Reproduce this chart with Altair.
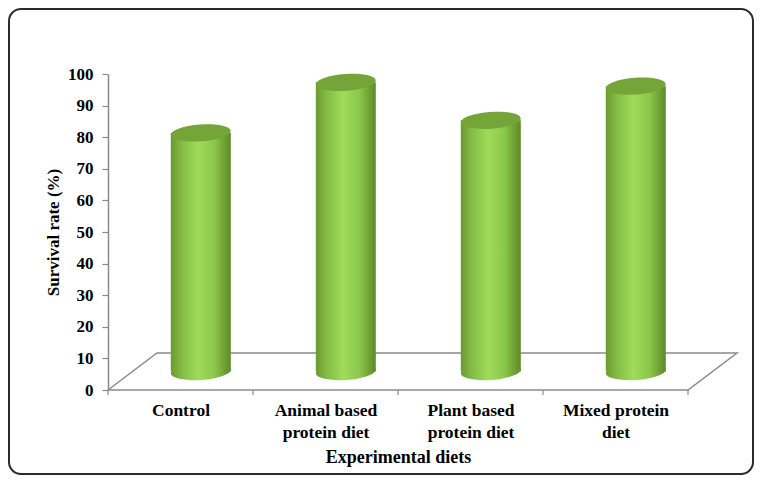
import textwrap
import altair as alt
import pandas as pd

# ---------------- data ----------------
categories = ["Control", "Animal based protein diet", "Plant based protein diet", "Mixed protein diet"]
survival = [75.5, 91.5, 79.5, 90.3]
y_ticks = list(range(0, 101, 10))

X_TITLE = "Experimental diets"
Y_TITLE = "Survival rate (%)"

# ---------------- layout / style constants ----------------
W, H = 620, 316
UNIT = 145.0                 # px per category slot
XMAX = W / UNIT
DX = 49 / UNIT               # 3-D depth offset (x, in category units)
DY = 37 / H * 100            # 3-D depth offset (y, in value units)
BAR_SHIFT = 0.14
BAR_HALF = 30 / UNIT
BASE = DY / 2                # bars stand on the middle depth plane
TICK_LEN = 5 / H * 100
FONT = "'Liberation Serif', 'Times New Roman', serif"
AXIS_GRAY = "#8a8a8a"

n = len(categories)
bars = pd.DataFrame({"category": categories, "value": survival})
bars["xc"] = [i + 0.5 + BAR_SHIFT for i in range(n)]
bars["x0"] = bars["xc"] - BAR_HALF
bars["x1"] = bars["xc"] + BAR_HALF
bars["base"] = BASE
bars["top"] = bars["value"] + BASE   # projected onto the front axis

floor = pd.DataFrame({"x": [0, DX, n + DX, n, 0], "y": [0, DY, DY, 0, 0], "o": list(range(5))})
xt = pd.DataFrame({"x": list(range(n + 1)), "y0": 0.0, "y1": -TICK_LEN})
frame = pd.DataFrame({"a": [0]})

wrapped = [textwrap.wrap(c, 13) for c in categories]
expr = "''"
for i in reversed(range(n)):
    arr = "[" + ",".join("'" + l + "'" for l in wrapped[i]) + "]"
    expr = f"datum.value == {i + 0.5} ? {arr} : {expr}"

xscale = alt.Scale(domain=[0, XMAX], nice=False, zero=False)
yscale = alt.Scale(domain=[0, 100], nice=False, zero=False)

x_axis = alt.Axis(
    values=[i + 0.5 for i in range(n)], labelExpr=expr, ticks=False, domain=False, grid=False,
    labelFont=FONT, labelFontWeight="bold", labelFontSize=17.5, labelColor="black",
    labelPadding=20, labelLineHeight=22, labelOverlap=False, labelFlush=False,
    labelBaseline="middle",
    title=X_TITLE, titleFont=FONT, titleFontWeight="bold", titleFontSize=18, titleColor="black",
    titleX=290, titleY=67, titleAlign="center", titleBaseline="middle",
)
y_axis = alt.Axis(
    values=y_ticks, grid=False, domainColor=AXIS_GRAY, domainWidth=1.5, tickColor=AXIS_GRAY,
    tickWidth=1.2, tickSize=6,
    labelFont=FONT, labelFontWeight="bold", labelFontSize=17, labelColor="black", labelPadding=9,
    title=Y_TITLE, titleFont=FONT, titleFontWeight="bold", titleFontSize=17, titleColor="black",
    titleX=-55, titleY=H / 2, titleAngle=270, titleAlign="center", titleBaseline="middle",
)

bar_grad = alt.Gradient(
    gradient="linear", x1=0, x2=1, y1=0, y2=0,
    stops=[
        alt.GradientStop(offset=0.0, color="#699a2f"),
        alt.GradientStop(offset=0.18, color="#84bb45"),
        alt.GradientStop(offset=0.45, color="#9edc5a"),
        alt.GradientStop(offset=0.72, color="#8cc84b"),
        alt.GradientStop(offset=0.9, color="#6f9f34"),
        alt.GradientStop(offset=1.0, color="#5d8b29"),
    ],
)
ELLIPSE = "M -1 0 A 1 0.28 0 1 1 1 0 A 1 0.28 0 1 1 -1 0 Z"


def X(field):
    return alt.X(field, scale=xscale, axis=x_axis)


def Y(field):
    return alt.Y(field, scale=yscale, axis=y_axis)


floor_layer = alt.Chart(floor).mark_line(color=AXIS_GRAY, strokeWidth=1.5).encode(
    x=X("x:Q"), y=Y("y:Q"), order="o:Q",
)

tick_layer = alt.Chart(xt).mark_rule(color=AXIS_GRAY, strokeWidth=1.2).encode(
    x=X("x:Q"), y=Y("y0:Q"), y2="y1:Q",
)

bottom_layer = alt.Chart(bars).mark_point(
    shape=ELLIPSE, size=3600, filled=True, fill=bar_grad, opacity=1, strokeWidth=0, angle=356
).encode(x=X("xc:Q"), y=Y("base:Q"))

body_layer = alt.Chart(bars).mark_rect(fill=bar_grad, strokeWidth=0).encode(
    x=X("x0:Q"), x2="x1:Q", y=Y("top:Q"), y2="base:Q",
)

top_layer = alt.Chart(bars).mark_point(
    shape=ELLIPSE, size=3600, filled=True, fill="#75a439", opacity=1, strokeWidth=0, angle=356
).encode(x=X("xc:Q"), y=Y("top:Q"))

frame_layer = alt.Chart(frame).mark_rect(
    fill="transparent", stroke="#2b2b2b", strokeWidth=2, cornerRadius=12
).encode(
    x=alt.value(-99), x2=alt.value(645), y=alt.value(-65), y2=alt.value(400),
)

chart = alt.layer(
    floor_layer, tick_layer, bottom_layer, body_layer, top_layer, frame_layer
).properties(
    width=W, height=H,
    autosize=alt.AutoSizeParams(type="none"),
    padding={"left": 100, "top": 66, "right": 26, "bottom": 85},
    background="white",
).configure_view(stroke=None)

chart.save("out.html", embed_options={"renderer": "svg", "actions": False})
